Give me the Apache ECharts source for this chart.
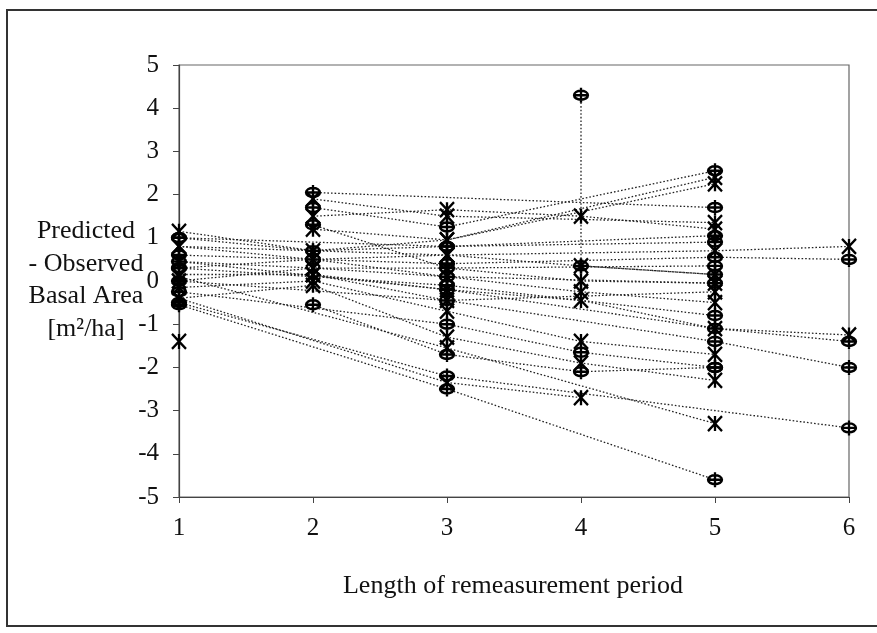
<!DOCTYPE html>
<html>
<head>
<meta charset="utf-8">
<script src="https://cdn.jsdelivr.net/npm/echarts@6/dist/echarts.min.js"></script>
<style>
html,body{margin:0;padding:0;background:#fff;}
#chart{width:877px;height:633px;}
</style>
</head>
<body>
<div id="chart"></div>
<script>
// Each plot: list of [remeasurement period, predicted - observed basal area]
const plotSeries = [
  [[1,1.15],[2,0.7],[3,0.95],[5,2.25]],
  [[1,1.0],[3,0.8],[5,0.9]],
  [[1,0.8],[2,0.5],[3,0.6],[5,0.7],[6,0.8]],
  [[1,0.6],[3,0.4],[5,0.55],[6,0.5]],
  [[1,0.45],[2,0.3],[3,0.1],[4,-0.25],[5,-0.5]],
  [[1,0.3],[3,-0.1],[5,-0.8]],
  [[1,0.15],[2,0.15],[3,-0.2],[4,-0.45],[5,-1.1],[6,-1.25]],
  [[1,0.0],[3,-0.45],[5,-1.4],[6,-2.0]],
  [[1,-0.15],[2,0.0],[3,-0.7],[4,-1.4],[5,-1.7]],
  [[1,-0.25],[3,-1.0],[4,-1.65],[5,-2.0]],
  [[1,-0.4],[2,-0.1],[3,-1.3],[4,-1.9],[5,-2.3]],
  [[1,-0.55],[3,-2.5],[5,-4.6]],
  [[1,-1.4]],
  [[1,-0.5],[3,-2.2],[6,-3.4]],
  [[1,0.1],[3,-1.55],[5,-3.3]],
  [[2,2.05],[5,1.7]],
  [[2,1.9],[3,1.5],[5,1.35]],
  [[2,1.7],[3,1.25],[5,2.55]],
  [[2,1.5],[3,1.65],[4,1.5],[5,1.2]],
  [[2,1.3],[3,0.3],[5,0.35]],
  [[2,1.2],[3,0.95],[5,2.4]],
  [[2,-0.55],[3,-1.7],[4,-2.1],[5,-2.0]],
  [[1,0.0],[2,0.3],[3,0.3],[4,0.0],[5,-0.05]],
  [[4,4.3],[4,0.35],[5,0.15]],
  [[1,0.8],[3,0.6],[4,0.35],[5,0.15]],
  [[1,0.45],[3,-0.2],[5,-1.1],[6,-1.4]],
  [[1,-0.4],[3,-2.35],[4,-2.7]],
  [[1,1.0],[2,0.7],[3,0.8],[5,1.05]],
  [[2,0.15],[3,-0.45],[5,-0.25]],
  [[1,0.3],[2,0.5],[3,0.1],[5,-0.05]]
];
const xTitle = 'Length of remeasurement period';
const yTitleLines = ['Predicted', '- Observed', 'Basal Area', '[m\u00b2/ha]'];

const starSym = 'path://M0,0L10,10M10,0L0,10M5,0L5,10';
const phiSym = 'path://M5,0L5,10M2,5A3,3,0,1,1,8,5A3,3,0,1,1,2,5M2.5,5L7.5,5';

const chart = echarts.init(document.getElementById('chart'), null, {renderer:'canvas'});
const serif = 'Liberation Serif';

const series = plotSeries.map((pts, i) => ({
  type: 'line',
  data: pts,
  symbol: i % 2 === 0 ? starSym : phiSym,
  symbolSize: [14, 15],
  showAllSymbol: true,
  itemStyle: { color: 'rgba(0,0,0,0)', borderColor: '#000', borderWidth: 2.4 },
  lineStyle: { color: '#222', width: 1.3, type: [1.6, 2.0] },
  emphasis: { disabled: true },
  silent: true,
  z: 2
}));

chart.setOption({
  animation: false,
  backgroundColor: '#fff',
  grid: { left: 179, right: 28, top: 65, bottom: 136, show: true, borderColor: '#666', borderWidth: 1.2 },
  xAxis: {
    type: 'value', min: 1, max: 6, interval: 1,
    axisLine: { show: true, onZero: false, lineStyle: { color: '#444', width: 1.2 } },
    axisTick: { show: true, inside: false, length: 6, lineStyle: { color: '#444' } },
    axisLabel: { color: '#111', fontFamily: serif, fontSize: 25, margin: 19 },
    splitLine: { show: false }
  },
  yAxis: {
    type: 'value', min: -5, max: 5, interval: 1,
    axisLine: { show: true, onZero: false, lineStyle: { color: '#444', width: 1.2 } },
    axisTick: { show: true, inside: false, length: 6, lineStyle: { color: '#444' } },
    axisLabel: { color: '#111', fontFamily: serif, fontSize: 25, margin: 20 },
    splitLine: { show: false }
  },
  graphic: [
    { type: 'rect', shape: { x: 7, y: 10, width: 900, height: 616 },
      style: { fill: 'none', stroke: '#333', lineWidth: 2 }, silent: true },
    { type: 'text', x: 513, y: 573,
      style: { text: xTitle, font: '26px "Liberation Serif"', fill: '#111', textAlign: 'center' } },
    { type: 'text', x: 86, y: 215,
      style: { text: yTitleLines.join('\n'), font: '26px "Liberation Serif"', fill: '#111',
               textAlign: 'center', lineHeight: 32.5 } }
  ],
  series: series
});
</script>
</body>
</html>
